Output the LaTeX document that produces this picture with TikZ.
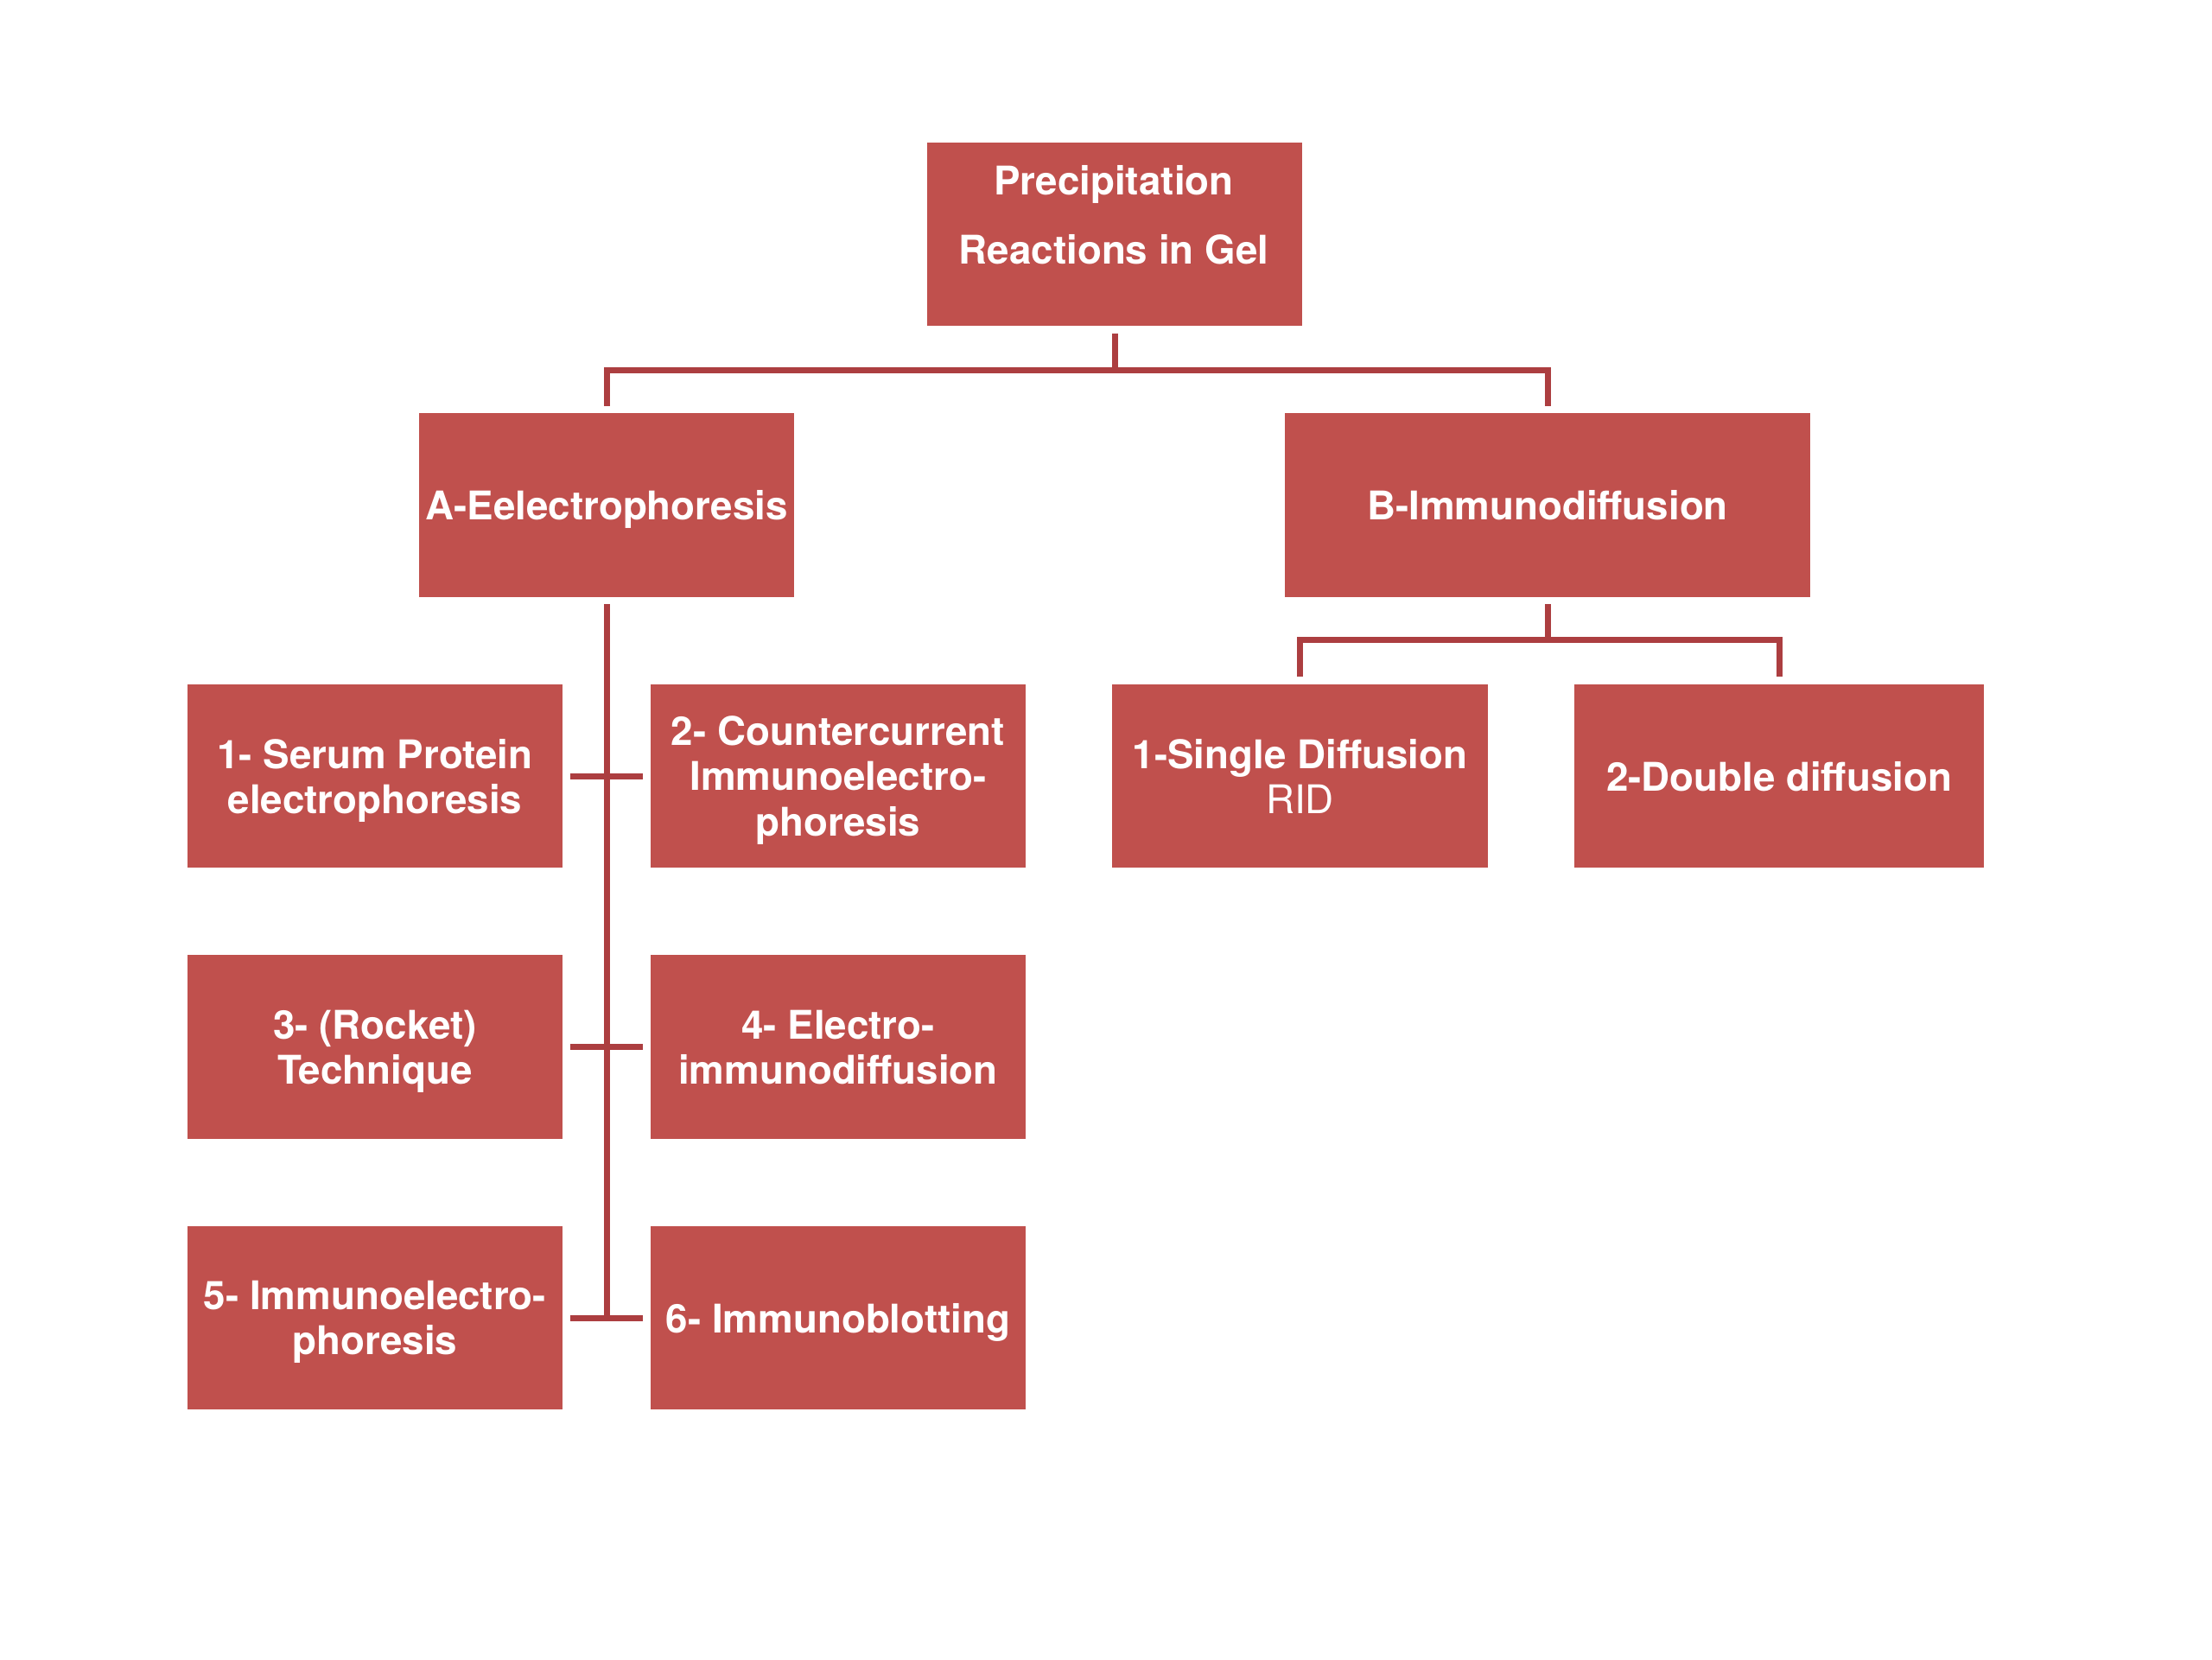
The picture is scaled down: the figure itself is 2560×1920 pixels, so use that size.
\documentclass[tikz,border=0pt]{standalone}
\usepackage{fontspec}
\setmainfont{TeX Gyre Heros}
\definecolor{boxred}{RGB}{192,80,77}
\definecolor{linered}{RGB}{172,62,64}
\tikzset{
  box/.style={fill=boxred, draw=none, minimum width=4.34cm, minimum height=2.12cm,
    inner sep=0pt, text=white, align=center, text depth=0pt,
    font=\bfseries\fontsize{13}{14.8}\selectfont},
  wide/.style={box, minimum width=6.08cm},
  dbl/.style={box, minimum width=4.74cm},
  conn/.style={draw=linered, line width=0.07cm},
}
\begin{document}
\begin{tikzpicture}[x=0.01cm,y=-0.01cm]
\useasboundingbox[fill=white] (0,0) rectangle (2560,1920);
% boxes
\node[box] (top) at (1290,271) {};
\node[text=white, align=center, font=\bfseries\fontsize{13}{22.7}\selectfont] (toptext) at (1289,249) {Precipitation\\Reactions in Gel};
\node[box] (A) at (702,584.5) {A-Eelectrophoresis};
\node[wide] (B) at (1791,584.5) {B-Immunodiffusion};
\node[box] (L1) at (434,898) {1- Serum Protein\\electrophoresis};
\node[box] (M1) at (970,898) {2- Countercurrent\\Immunoelectro-\\phoresis};
\node[box] (S) at (1504.5,898) {1-Single Diffusion\\\mdseries RID};
\node[dbl] (D) at (2059,898) {2-Double diffusion};
\node[box] (L2) at (434,1211.5) {3- (Rocket)\\Technique};
\node[box] (M2) at (970,1211.5) {4- Electro-\\immunodiffusion};
\node[box] (L3) at (434,1525) {5- Immunoelectro-\\phoresis};
\node[box] (M3) at (970,1525) {6- Immunoblotting};
% connectors
\coordinate (j1) at (1290,428);
\coordinate (j2) at (1791,740);
\draw[conn] ([yshift=-0.08cm]top.south) -- (j1);
\draw[conn] ([yshift=0.08cm]A.north) |- (j1) -| ([yshift=0.08cm]B.north);
\draw[conn] ([yshift=-0.08cm]B.south) -- (j2);
\draw[conn] ([yshift=0.08cm]S.north) |- (j2) -| ([yshift=0.08cm]D.north);
\draw[conn] ([yshift=-0.08cm]A.south) -- (A.south |- L3.east);
\draw[conn] ([xshift=0.08cm]L1.east) -- ([xshift=-0.08cm]M1.west);
\draw[conn] ([xshift=0.08cm]L2.east) -- ([xshift=-0.08cm]M2.west);
\draw[conn] ([xshift=0.08cm]L3.east) -- ([xshift=-0.08cm]M3.west);
\end{tikzpicture}
\end{document}
